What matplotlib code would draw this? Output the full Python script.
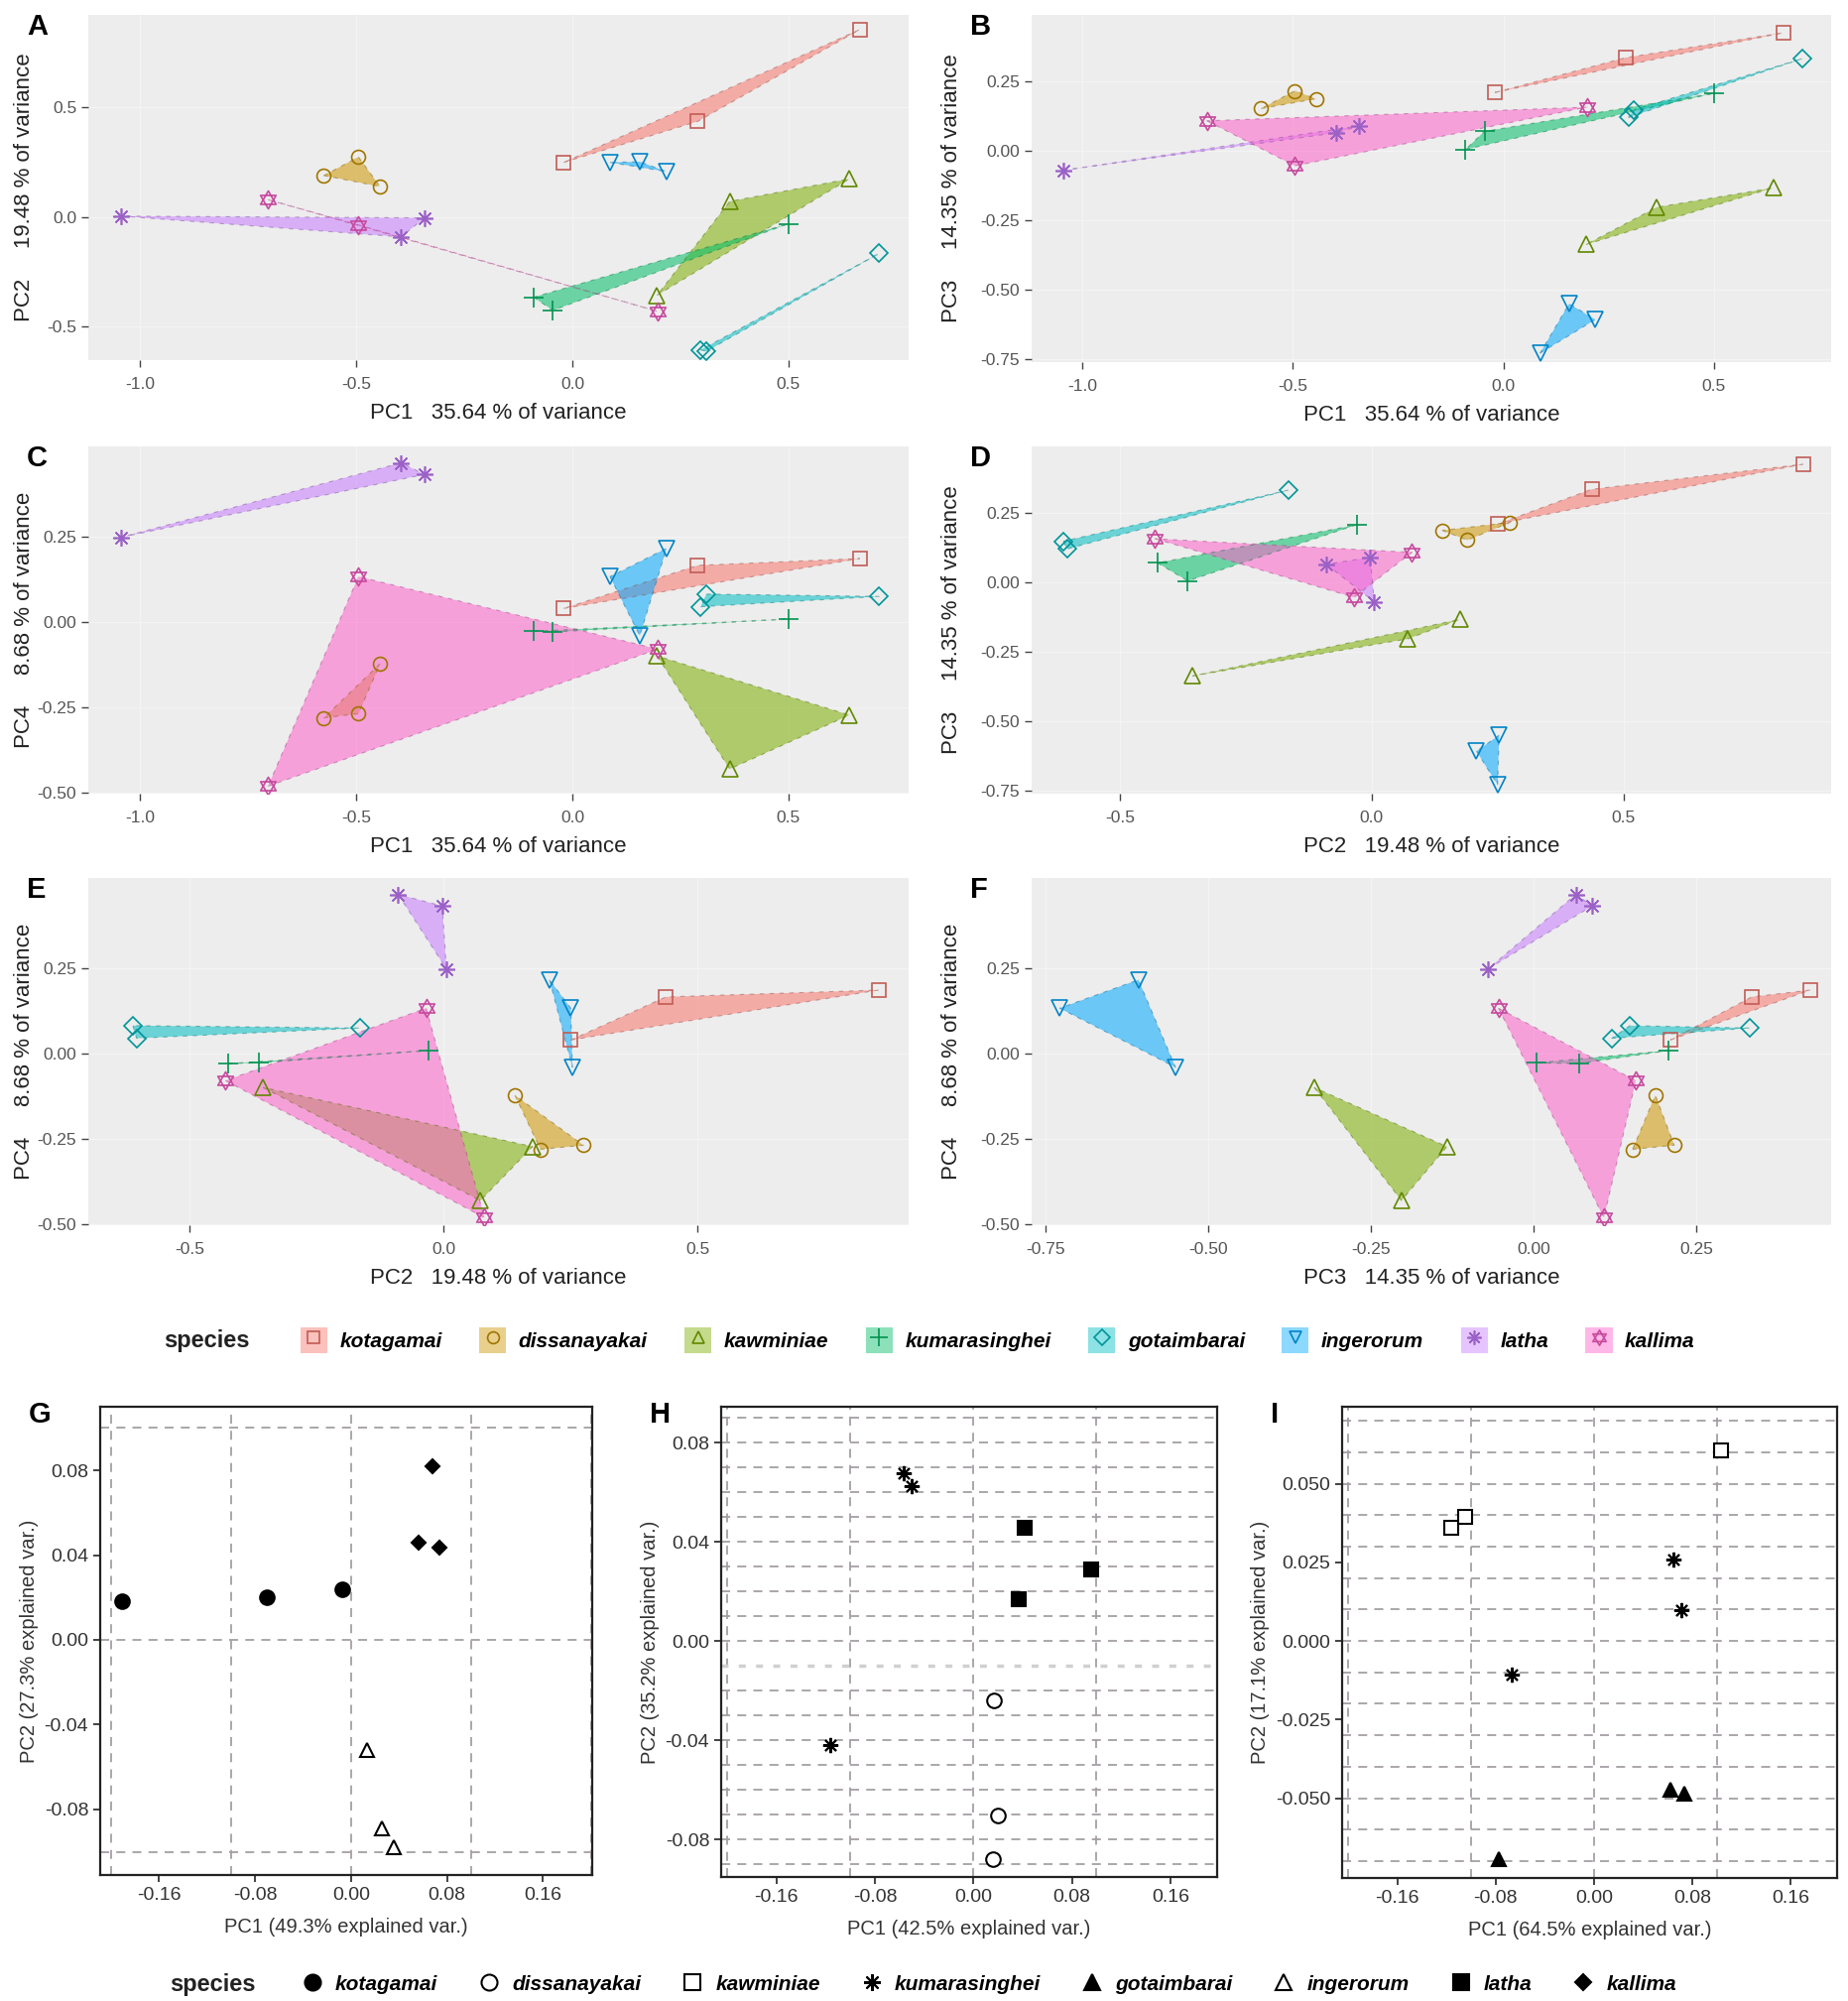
import numpy as np
import matplotlib
matplotlib.use('Agg')
import matplotlib.pyplot as plt
from matplotlib.path import Path
from matplotlib.lines import Line2D
from matplotlib.patches import Patch, Polygon
from matplotlib.legend_handler import HandlerTuple
from matplotlib.ticker import FormatStrFormatter
import matplotlib.colors as mcolors

plt.rcParams['font.family'] = ['Liberation Sans', 'DejaVu Sans']
plt.rcParams['axes.unicode_minus'] = False

W, H = 1863, 2017

# ---------------- data: top panels (PCA scores, 3 specimens per species) -------------
species = ['kotagamai', 'dissanayakai', 'kawminiae', 'kumarasinghei',
           'gotaimbarai', 'ingerorum', 'latha', 'kallima']
species_colors = ['#F8766D', '#CD9600', '#7CAE00', '#00BE67',
                  '#00BFC4', '#00A9FF', '#C77CFF', '#FF61CC']

specimen_species = [s for s in species for _ in range(3)]
pc1 = [-0.02, 0.29, 0.665,
       -0.575, -0.495, -0.445,
       0.364, 0.641, 0.196,
       -0.09, -0.045, 0.50,
       0.297, 0.31, 0.71,
       0.087, 0.156, 0.218,
       -1.045, -0.342, -0.396,
       -0.704, -0.495, 0.198]
pc2 = [0.25, 0.437, 0.856,
       0.19, 0.275, 0.14,
       0.072, 0.175, -0.356,
       -0.365, -0.425, -0.03,
       -0.605, -0.612, -0.165,
       0.25, 0.253, 0.208,
       0.005, -0.003, -0.09,
       0.08, -0.035, -0.43]
pc3 = [0.21, 0.335, 0.425,
       0.152, 0.216, 0.187,
       -0.203, -0.133, -0.337,
       0.005, 0.07, 0.207,
       0.12, 0.148, 0.332,
       -0.728, -0.55, -0.607,
       -0.07, 0.09, 0.065,
       0.108, -0.054, 0.157]
pc4 = [0.04, 0.166, 0.186,
       -0.28, -0.268, -0.122,
       -0.43, -0.272, -0.099,
       -0.027, -0.029, 0.009,
       0.045, 0.082, 0.075,
       0.133, -0.04, 0.216,
       0.248, 0.432, 0.466,
       -0.48, 0.133, -0.079]
pc_var = ['35.64', '19.48', '14.35', '8.68']

# ---------------- data: bottom panels -------------
g_species = ['kotagamai'] * 3 + ['kallima'] * 3 + ['ingerorum'] * 3
g_x = [-0.191, -0.070, -0.007, 0.068, 0.056, 0.074, 0.013, 0.026, 0.036]
g_y = [0.018, 0.020, 0.024, 0.082, 0.046, 0.0435, -0.052, -0.089, -0.098]

h_species = ['kumarasinghei'] * 3 + ['latha'] * 3 + ['dissanayakai'] * 3
h_x = [-0.057, -0.050, -0.116, 0.042, 0.037, 0.096, 0.0165, 0.020, 0.016]
h_y = [0.0676, 0.0624, -0.042, 0.0456, 0.0168, 0.0288, -0.0238, -0.0703, -0.0879]

i_species = ['kawminiae'] * 3 + ['kumarasinghei'] * 3 + ['gotaimbarai'] * 3
i_x = [-0.116, -0.105, 0.1035, 0.0647, 0.071, -0.067, 0.0623, 0.074, -0.0775]
i_y = [0.0359, 0.0394, 0.0607, 0.026, 0.0097, -0.0107, -0.0473, -0.0486, -0.0693]

bottom_var = [('49.3', '27.3'), ('42.5', '35.2'), ('64.5', '17.1')]

# ---------------- styles -------------
star_path = Path([(0, 1), (-0.866, -0.5), (0.866, -0.5), (0, 1),
                  (0, -1), (-0.866, 0.5), (0.866, 0.5), (0, -1)],
                 [Path.MOVETO, Path.LINETO, Path.LINETO, Path.CLOSEPOLY,
                  Path.MOVETO, Path.LINETO, Path.LINETO, Path.CLOSEPOLY])
top_markers = {'kotagamai': ('s', 10), 'dissanayakai': ('o', 10),
               'kawminiae': ('^', 11), 'kumarasinghei': ('+', 15),
               'gotaimbarai': ('D', 9), 'ingerorum': ('v', 11),
               'latha': ((8, 2, 0), 12), 'kallima': (star_path, 13)}
bottom_markers = {'kotagamai': ('o', True, 10.5), 'dissanayakai': ('o', False, 10.5),
                  'kawminiae': ('s', False, 10), 'kumarasinghei': ((8, 2, 0), True, 11),
                  'gotaimbarai': ('^', True, 10), 'ingerorum': ('^', False, 10),
                  'latha': ('s', True, 10), 'kallima': ('D', True, 7)}


def darker(c, f=0.78):
    r, g, b = mcolors.to_rgb(c)
    return (r * f, g * f, b * f)


def rect(l, t, r, b):
    return [l / W, 1 - b / H, (r - l) / W, (b - t) / H]


def hull(pts):
    pts = sorted(set(map(tuple, pts)))
    if len(pts) < 3:
        return pts

    def cross(o, a, b):
        return (a[0] - o[0]) * (b[1] - o[1]) - (a[1] - o[1]) * (b[0] - o[0])
    lower, upper = [], []
    for p in pts:
        while len(lower) >= 2 and cross(lower[-2], lower[-1], p) <= 0:
            lower.pop()
        lower.append(p)
    for p in reversed(pts):
        while len(upper) >= 2 and cross(upper[-2], upper[-1], p) <= 0:
            upper.pop()
        upper.append(p)
    return lower[:-1] + upper[:-1]


fig = plt.figure(figsize=(W / 100, H / 100), dpi=100)
fig.patch.set_facecolor('white')

pcs = [np.array(pc1), np.array(pc2), np.array(pc3), np.array(pc4)]
sp_arr = np.array(specimen_species)


def top_panel(box, xi, yi, xlim, ylim, xticks, yticks, xfmt, yfmt, letter, ylab_x):
    ax = fig.add_axes(rect(*box))
    ax.set_facecolor('#EDEDED')
    for s in ax.spines.values():
        s.set_visible(False)
    ax.set_xticks(xticks)
    ax.set_yticks(yticks)
    ax.xaxis.set_major_formatter(FormatStrFormatter(xfmt))
    ax.yaxis.set_major_formatter(FormatStrFormatter(yfmt))
    ax.grid(True, which='major', color='#F4F4F4', lw=0.9)
    ax.set_axisbelow(True)
    ax.tick_params(which='major', length=5, width=1, color='#444444',
                   labelcolor='#555555', labelsize=12.5)
    ax.tick_params(axis='x', pad=7)
    xs, ys = pcs[xi], pcs[yi]
    for sp, col in zip(species, species_colors):
        m = sp_arr == sp
        pts = np.column_stack([xs[m], ys[m]])
        hp = hull(pts)
        if len(hp) >= 3:
            ax.add_patch(Polygon(hp, closed=True, facecolor=col, alpha=0.55,
                                 edgecolor='none', zorder=2))
            ax.add_patch(Polygon(hp, closed=True, facecolor='none',
                                 edgecolor=darker(col, 0.6), lw=0.8, ls=(0, (4, 5)),
                                 alpha=0.45, zorder=2.5))
    for sp, col in zip(species, species_colors):
        m = sp_arr == sp
        mk, ms = top_markers[sp]
        ax.plot(xs[m], ys[m], ls='none', marker=mk, ms=ms, mfc='none',
                mec=darker(col), mew=1.2, zorder=3)
    ax.set_xlim(*xlim)
    ax.set_ylim(*ylim)
    ax.set_xlabel('PC%d   %s %% of variance' % (xi + 1, pc_var[xi]),
                  fontsize=16, color='#222222', labelpad=8)
    cy = (box[1] + box[3]) / 2
    fig.text(ylab_x / W, 1 - cy / H, 'PC%d     %s %% of variance' % (yi + 1, pc_var[yi]),
             rotation=90, fontsize=16, color='#222222', ha='center', va='center')
    fig.text((box[0] - 62) / W, 1 - (box[1] + 12) / H, letter, fontsize=21,
             fontweight='bold', ha='left', va='center')
    return ax


pc1_lim = (-1.12, 0.778)
pc2_lim_d = (-0.675, 0.912)
pc2_lim_e = (-0.70, 0.915)
pc3_lim = (-0.76, 0.489)
pc4_lim = (-0.502, 0.514)
t1 = [-1.0, -0.5, 0.0, 0.5]
t2 = [-0.5, 0.0, 0.5]
t3 = [-0.75, -0.5, -0.25, 0.0, 0.25]
t4 = [-0.5, -0.25, 0.0, 0.25]

top_panel((89, 15, 916, 363), 0, 1, pc1_lim, (-0.652, 0.923), t1, t2, '%.1f', '%.1f', 'A', 25)
top_panel((1040, 15, 1846, 365), 0, 2, pc1_lim, pc3_lim, t1, t3, '%.1f', '%.2f', 'B', 960)
top_panel((89, 450, 916, 800), 0, 3, pc1_lim, pc4_lim, t1, t4, '%.1f', '%.2f', 'C', 25)
top_panel((1040, 450, 1846, 800), 1, 2, pc2_lim_d, pc3_lim, t2, t3, '%.1f', '%.2f', 'D', 960)
top_panel((89, 885, 916, 1235), 1, 3, pc2_lim_e, pc4_lim, t2, t4, '%.1f', '%.2f', 'E', 25)
top_panel((1040, 885, 1846, 1235), 2, 3, (-0.771, 0.457), pc4_lim,
          [-0.75, -0.5, -0.25, 0.0, 0.25], t4, '%.2f', '%.2f', 'F', 960)

# ---------------- top legend -------------
handles = []
for sp, col in zip(species, species_colors):
    mk, ms = top_markers[sp]
    handles.append((Patch(facecolor=col, alpha=0.45, edgecolor='none'),
                    Line2D([], [], ls='none', marker=mk, ms=ms * 0.85, mfc='none',
                           mec=darker(col), mew=1.2)))
fig.text(165 / W, 1 - 1351 / H, 'species', fontsize=17, fontweight='bold',
         ha='left', va='center', color='#222222')
fig.legend(handles, species, handler_map={tuple: HandlerTuple(ndivide=1, pad=0)},
           loc='center left', bbox_to_anchor=(284 / W, 1 - 1351 / H), ncol=8,
           frameon=False, handlelength=1.3, handleheight=1.6, handletextpad=0.6,
           columnspacing=1.8,
           prop={'style': 'italic', 'weight': 'bold', 'size': 15})


# ---------------- bottom panels -------------
def bottom_panel(box, xs, ys, sps, ylim, yticks, yfmt, vgrid, hgrid, letter, var,
                 xlim=(-0.205, 0.198), light=None):
    ax = fig.add_axes(rect(*box))
    ax.set_facecolor('white')
    for s in ax.spines.values():
        s.set_color('#222222')
        s.set_linewidth(1.6)
    ax.set_xticks([-0.16, -0.08, 0.0, 0.08, 0.16])
    ax.set_yticks(yticks)
    ax.xaxis.set_major_formatter(FormatStrFormatter('%.2f'))
    ax.yaxis.set_major_formatter(FormatStrFormatter(yfmt))
    for v in vgrid:
        ax.axvline(v, color='#A59FA5', lw=1.3, ls=(0, (5, 4)), zorder=1)
    for h in hgrid:
        if light is not None and abs(h - light) < 1e-9:
            ax.axhline(h, color='#D0D0D0', lw=2.5, ls=(0, (2, 3)), zorder=1)
        else:
            ax.axhline(h, color='#A59FA5', lw=1.3, ls=(0, (5, 4)), zorder=1)
    ax.tick_params(length=5, width=1.2, color='#222222', labelcolor='#333333', labelsize=14)
    for x, y, sp in zip(xs, ys, sps):
        mk, filled, ms = bottom_markers[sp]
        ax.plot([x], [y], ls='none', marker=mk, ms=ms, mfc='black' if filled else 'white',
                mec='black', mew=1.5, zorder=3)
    ax.set_xlim(*xlim)
    ax.set_ylim(*ylim)
    ax.set_xlabel('PC1 (%s%% explained var.)' % var[0], fontsize=14.5, color='#333333', labelpad=10)
    ax.set_ylabel('PC2 (%s%% explained var.)' % var[1], fontsize=14.5, color='#333333', labelpad=4)
    fig.text((box[0] - 72) / W, 1 - (box[1] + 8) / H, letter, fontsize=21,
             fontweight='bold', ha='left', va='center')
    return ax


gh = list(np.round(np.arange(-0.09, 0.0901, 0.01), 3))
ih = list(np.round(np.arange(-0.07, 0.0701, 0.01), 3))
bottom_panel((101, 1418, 597, 1890), g_x, g_y, g_species, (-0.111, 0.110),
             [-0.08, -0.04, 0.0, 0.04, 0.08], '%.2f',
             [-0.2, -0.1, 0.0, 0.1, 0.2], [-0.1, 0.0, 0.1], 'G', bottom_var[0],
             xlim=(-0.209, 0.201))
bottom_panel((727, 1418, 1227, 1892), h_x, h_y, h_species, (-0.0952, 0.0944),
             [-0.08, -0.04, 0.0, 0.04, 0.08], '%.2f',
             [-0.2, -0.1, 0.0, 0.1], gh, 'H', bottom_var[1], light=-0.01)
bottom_panel((1353, 1418, 1852, 1893), i_x, i_y, i_species, (-0.0754, 0.0745),
             [-0.05, -0.025, 0.0, 0.025, 0.05], '%.3f',
             [-0.2, -0.1, 0.0, 0.1], ih, 'I', bottom_var[2])

# ---------------- bottom legend -------------
bh = []
for sp in species:
    mk, filled, ms = bottom_markers[sp]
    bh.append(Line2D([], [], ls='none', marker=mk, ms=ms * 1.1, mfc='black' if filled else 'white',
                     mec='black', mew=1.5))
fig.text(171 / W, 1 - 2000 / H, 'species', fontsize=17, fontweight='bold',
         ha='left', va='center', color='#222222')
fig.legend(bh, species, loc='center left', bbox_to_anchor=(286 / W, 1 - 2000 / H), ncol=8,
           frameon=False, handlelength=1.0, handletextpad=0.6, columnspacing=2.0,
           prop={'style': 'italic', 'weight': 'bold', 'size': 15})

fig.savefig('out.png', dpi=100, facecolor='white')
